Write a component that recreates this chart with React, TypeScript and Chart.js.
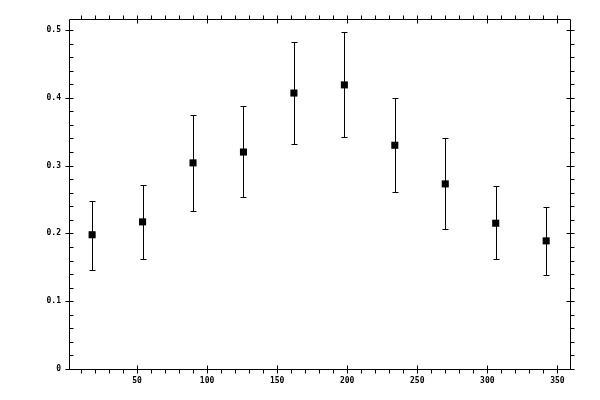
import React, { useEffect, useRef } from "react";
import { Chart, registerables } from "chart.js";

Chart.register(...registerables);

// bin centres (degrees) and measured values with their error limits
const angles = [18, 54, 90, 126, 162, 198, 234, 270, 306, 342];
const values = [0.198, 0.217, 0.304, 0.32, 0.407, 0.419, 0.33, 0.273, 0.215, 0.189];
const errLow = [0.146, 0.162, 0.233, 0.254, 0.332, 0.342, 0.261, 0.207, 0.162, 0.139];
const errHigh = [0.248, 0.272, 0.375, 0.388, 0.482, 0.497, 0.4, 0.341, 0.27, 0.239];

const xTicks = [50, 100, 150, 200, 250, 300, 350];
const yTicks = [0, 0.1, 0.2, 0.3, 0.4, 0.5];

const px = (v: number) => Math.round(v) + 0.5;

// error bars, drawn under the markers
const errorBars = {
  id: "errorBars",
  beforeDatasetsDraw(chart: any) {
    const { ctx, scales } = chart;
    ctx.save();
    ctx.strokeStyle = "#000";
    ctx.lineWidth = 1;
    ctx.beginPath();
    angles.forEach((a, i) => {
      const x = px(scales.x.getPixelForValue(a));
      const top = px(scales.y.getPixelForValue(errHigh[i]));
      const bot = px(scales.y.getPixelForValue(errLow[i]));
      ctx.moveTo(x, top);
      ctx.lineTo(x, bot);
      ctx.moveTo(x - 3, top);
      ctx.lineTo(x + 3, top);
      ctx.moveTo(x - 3, bot);
      ctx.lineTo(x + 3, bot);
    });
    ctx.stroke();
    ctx.restore();
  },
};

// box frame with major / minor tick marks on all four sides
const frame = {
  id: "frame",
  afterDraw(chart: any) {
    const { ctx, chartArea: a, scales } = chart;
    const L = px(a.left), R = px(a.right), T = px(a.top), B = px(a.bottom);
    ctx.save();
    ctx.strokeStyle = "#000";
    ctx.lineWidth = 1;
    ctx.beginPath();
    ctx.rect(L, T, R - L, B - T);

    for (let v = 10; v <= scales.x.max; v += 10) {
      if (v < scales.x.min) continue;
      const x = px(scales.x.getPixelForValue(v));
      if (v % 50 === 0) {
        ctx.moveTo(x, B - 4); ctx.lineTo(x, B + 4);
        ctx.moveTo(x, T - 4); ctx.lineTo(x, T + 4);
      } else {
        ctx.moveTo(x, B); ctx.lineTo(x, B + 4);
        ctx.moveTo(x, T); ctx.lineTo(x, T - 4);
      }
    }
    for (let k = 0; k * 0.02 <= scales.y.max; k++) {
      const y = px(scales.y.getPixelForValue(k * 0.02));
      if (k % 5 === 0) {
        ctx.moveTo(L - 4, y); ctx.lineTo(L + 4, y);
        ctx.moveTo(R - 4, y); ctx.lineTo(R + 4, y);
      } else {
        ctx.moveTo(L, y); ctx.lineTo(L + 4, y);
        ctx.moveTo(R, y); ctx.lineTo(R + 4, y);
      }
    }
    ctx.stroke();
    ctx.restore();
  },
};

const tickFont = { family: "'DejaVu Sans Mono', monospace", size: 8, weight: "bold" as const };

export default function App() {
  const canvasRef = useRef<HTMLCanvasElement>(null);

  useEffect(() => {
    if (!canvasRef.current) return;
    const chart = new Chart(canvasRef.current, {
      type: "scatter",
      data: {
        datasets: [
          {
            data: angles.map((a, i) => ({ x: a, y: values[i] })),
            pointStyle: "rect",
            pointRadius: 5,
            pointBorderWidth: 0,
            backgroundColor: "#000",
            borderColor: "#000",
          },
        ],
      },
      options: {
        responsive: false,
        animation: false,
        layout: { padding: { left: 0, top: 19, right: 30, bottom: 0 } },
        plugins: { legend: { display: false }, tooltip: { enabled: false } },
        scales: {
          x: {
            type: "linear",
            min: 1.5,
            max: 359,
            afterBuildTicks: (s: any) => {
              s.ticks = xTicks.map((v) => ({ value: v }));
            },
            afterFit: (s: any) => {
              s.height = 31;
            },
            grid: { display: false, drawTicks: false },
            border: { display: false },
            ticks: { color: "#000", font: tickFont, padding: 7, maxRotation: 0, autoSkip: false },
          },
          y: {
            type: "linear",
            min: 0,
            max: 0.5162,
            afterBuildTicks: (s: any) => {
              s.ticks = yTicks.map((v) => ({ value: v }));
            },
            afterFit: (s: any) => {
              s.width = 69;
            },
            grid: { display: false, drawTicks: false },
            border: { display: false },
            ticks: {
              color: "#000",
              font: tickFont,
              padding: 8,
              autoSkip: false,
              callback: (v: any) => String(v),
            },
          },
        },
      },
      plugins: [errorBars, frame],
    });
    return () => chart.destroy();
  }, []);

  return (
    <div style={{ position: "absolute", left: 0, top: 0, width: 600, height: 400, background: "#fff" }}>
      <canvas ref={canvasRef} width={600} height={400} />
    </div>
  );
}
